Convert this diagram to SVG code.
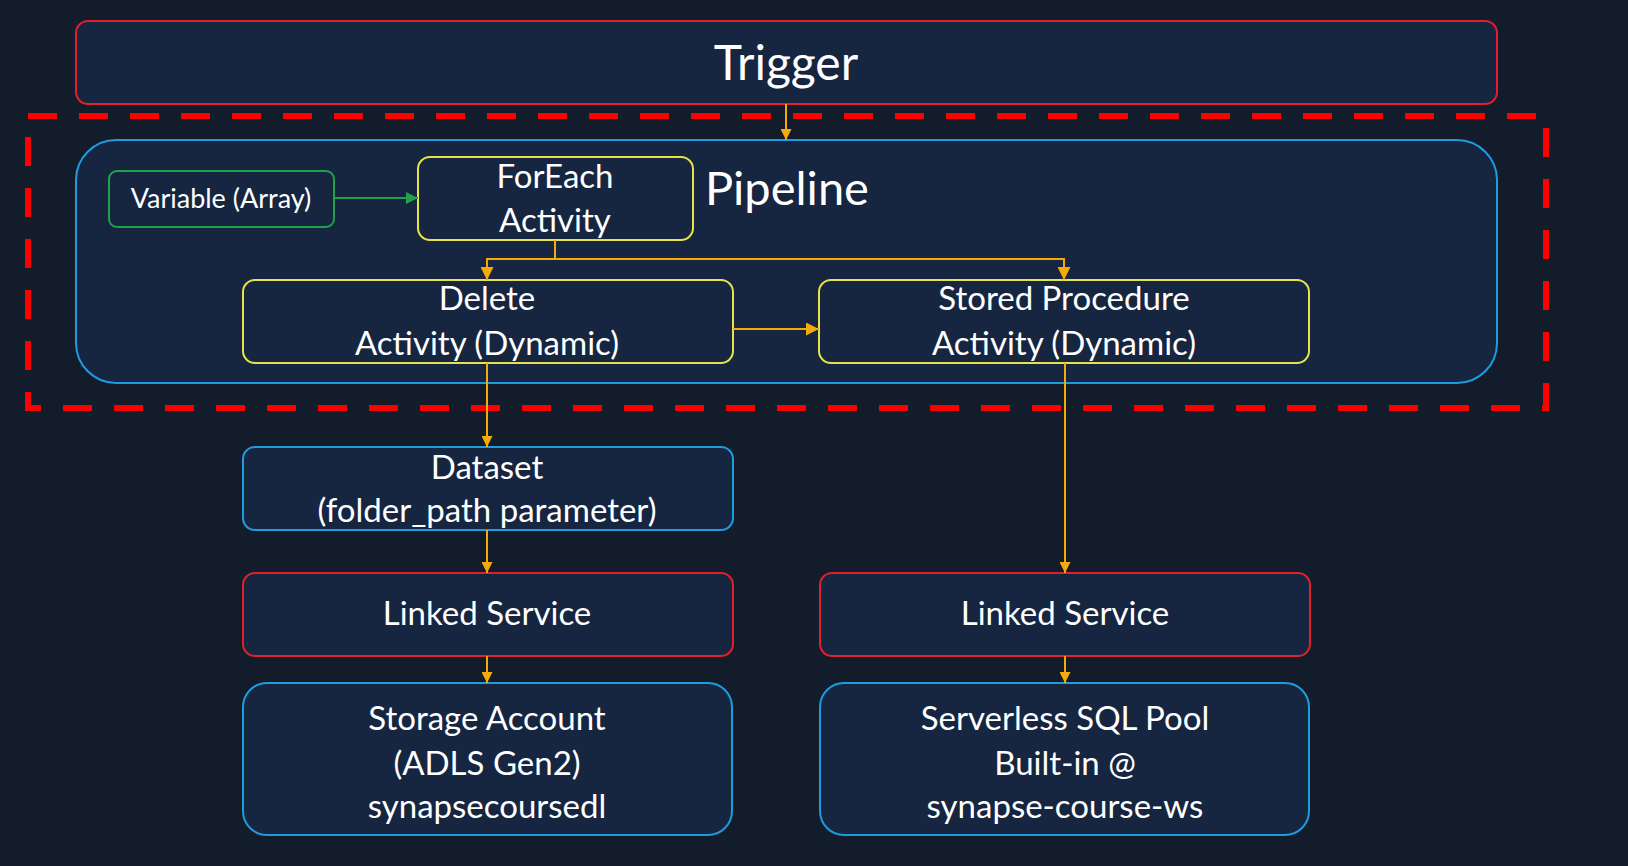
<svg xmlns="http://www.w3.org/2000/svg" width="1628" height="866" viewBox="0 0 1628 866">
  <defs>
    <marker id="arrOrange" viewBox="0 0 10 10" refX="10" refY="5" markerWidth="11" markerHeight="11" orient="auto" markerUnits="userSpaceOnUse">
      <path d="M0,0 L10,5 L0,10 z" fill="#f5aa0a"/>
    </marker>
    <marker id="arrOrangeL" viewBox="0 0 10 10" refX="10" refY="5" markerWidth="13" markerHeight="13" orient="auto" markerUnits="userSpaceOnUse">
      <path d="M0,0 L10,5 L0,10 z" fill="#f5aa0a"/>
    </marker>
    <marker id="arrGreen" viewBox="0 0 10 10" refX="10" refY="5" markerWidth="12" markerHeight="12" orient="auto" markerUnits="userSpaceOnUse">
      <path d="M0,0 L10,5 L0,10 z" fill="#1fa34a"/>
    </marker>
    <style>
      .box { fill: #162641; stroke-width: 2; }
      .red { stroke: #e0202a; }
      .blue { stroke: #1f9be0; }
      .yellow { stroke: #e8e24a; }
      .green { stroke: #1fa34a; }
      text { font-family: Lato, "Open Sans", sans-serif; fill: #ffffff; text-anchor: middle; }
      .t { font-size: 33px; }
      .conn { fill: none; stroke: #f5aa0a; stroke-width: 2; }
    </style>
  </defs>

  <rect x="0" y="0" width="1628" height="866" fill="#131c2b"/>

  <!-- trigger -->
  <g id="trigger">
    <rect class="box red" x="76" y="21" width="1421" height="83" rx="12"/>
    <text x="786" y="80" style="font-size:48px">Trigger</text>
  </g>

  <!-- dashed scope frame around the pipeline -->
  <rect id="scope" x="28" y="116" width="1518" height="292" fill="none" stroke="#ff0000" stroke-width="6" stroke-dasharray="29 22"/>

  <!-- pipeline container -->
  <g id="pipeline">
    <rect class="box blue" x="76" y="140" width="1421" height="243" rx="40"/>
    <text x="705" y="205" style="font-size:47px;text-anchor:start">Pipeline</text>
  </g>

  <g id="variable">
    <rect class="box green" x="109" y="171" width="225" height="56" rx="8"/>
    <text x="221" y="208" style="font-size:27px">Variable (Array)</text>
  </g>

  <g id="foreach">
    <rect class="box yellow" x="418" y="157" width="275" height="83" rx="12"/>
    <text class="t" x="555" y="188">ForEach</text>
    <text class="t" x="555" y="232">Activity</text>
  </g>

  <g id="delete">
    <rect class="box yellow" x="243" y="280" width="490" height="83" rx="12"/>
    <text class="t" x="487" y="310">Delete</text>
    <text class="t" x="487" y="355">Activity (Dynamic)</text>
  </g>

  <g id="storedproc">
    <rect class="box yellow" x="819" y="280" width="490" height="83" rx="12"/>
    <text class="t" x="1064" y="310">Stored Procedure</text>
    <text class="t" x="1064" y="355">Activity (Dynamic)</text>
  </g>

  <g id="dataset">
    <rect class="box blue" x="243" y="447" width="490" height="83" rx="12"/>
    <text class="t" x="487" y="479">Dataset</text>
    <text class="t" x="487" y="522">(folder_path parameter)</text>
  </g>

  <g id="linked-left">
    <rect class="box red" x="243" y="573" width="490" height="83" rx="12"/>
    <text class="t" x="487" y="625">Linked Service</text>
  </g>

  <g id="linked-right">
    <rect class="box red" x="820" y="573" width="490" height="83" rx="12"/>
    <text class="t" x="1065" y="625">Linked Service</text>
  </g>

  <g id="storage">
    <rect class="box blue" x="243" y="683" width="489" height="152" rx="24"/>
    <text class="t" x="487" y="730">Storage Account</text>
    <text class="t" x="487" y="775">(ADLS Gen2)</text>
    <text class="t" x="487" y="818">synapsecoursedl</text>
  </g>

  <g id="sqlpool">
    <rect class="box blue" x="820" y="683" width="489" height="152" rx="24"/>
    <text class="t" x="1065" y="730">Serverless SQL Pool</text>
    <text class="t" x="1065" y="775">Built-in @</text>
    <text class="t" x="1065" y="818">synapse-course-ws</text>
  </g>

  <g id="connectors">
    <line class="conn" x1="786" y1="104" x2="786" y2="140" marker-end="url(#arrOrange)"/>
    <line x1="334" y1="198" x2="418" y2="198" stroke="#1fa34a" stroke-width="2" marker-end="url(#arrGreen)"/>
    <path class="conn" d="M555,240 V259 H487 V280" stroke-width="3" marker-end="url(#arrOrangeL)"/>
    <path class="conn" d="M555,259 H1064 V280" stroke-width="3" marker-end="url(#arrOrangeL)"/>
    <line class="conn" x1="733" y1="329" x2="819" y2="329" marker-end="url(#arrOrangeL)"/>
    <line class="conn" x1="487" y1="363" x2="487" y2="447" marker-end="url(#arrOrange)"/>
    <line class="conn" x1="487" y1="530" x2="487" y2="573" marker-end="url(#arrOrange)"/>
    <line class="conn" x1="1065" y1="363" x2="1065" y2="573" marker-end="url(#arrOrange)"/>
    <line class="conn" x1="487" y1="656" x2="487" y2="683" marker-end="url(#arrOrange)"/>
    <line class="conn" x1="1065" y1="656" x2="1065" y2="683" marker-end="url(#arrOrange)"/>
  </g>
</svg>
